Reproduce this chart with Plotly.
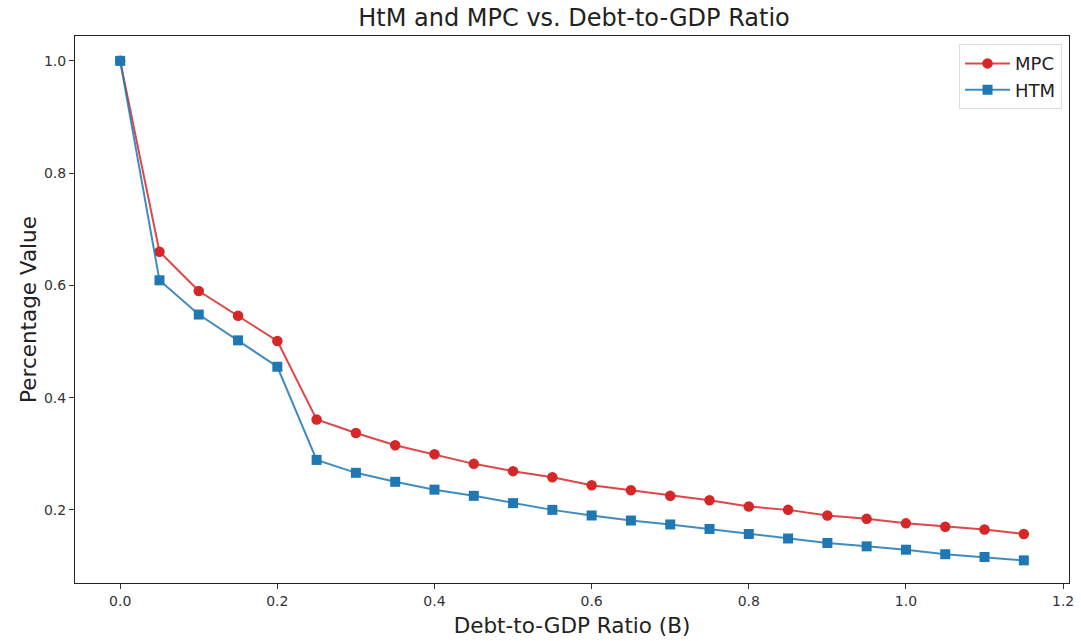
import plotly.graph_objects as go

debt_ratio = [0.0, 0.05, 0.1, 0.15, 0.2, 0.25, 0.3, 0.35, 0.4, 0.45, 0.5, 0.55,
              0.6, 0.65, 0.7, 0.75, 0.8, 0.85, 0.9, 0.95, 1.0, 1.05, 1.1, 1.15]
mpc = [1.0, 0.660, 0.590, 0.546, 0.501, 0.361, 0.337, 0.315, 0.299, 0.282, 0.269, 0.258,
       0.244, 0.235, 0.225, 0.217, 0.206, 0.200, 0.190, 0.184, 0.176, 0.170, 0.165, 0.157]
htm = [1.0, 0.609, 0.548, 0.502, 0.455, 0.289, 0.266, 0.250, 0.236, 0.225, 0.212, 0.200,
       0.190, 0.181, 0.174, 0.166, 0.157, 0.149, 0.141, 0.135, 0.129, 0.121, 0.116, 0.110]
x_ticks = [0.0, 0.2, 0.4, 0.6, 0.8, 1.0, 1.2]
y_ticks = [0.2, 0.4, 0.6, 0.8, 1.0]

FONT = "DejaVu Sans"

fig = go.Figure()
fig.add_trace(go.Scatter(
    x=debt_ratio, y=mpc, name="MPC", mode="lines+markers",
    line=dict(color="rgba(214,39,40,0.85)", width=2),
    marker=dict(symbol="circle", size=10.5, color="#d62728"),
))
fig.add_trace(go.Scatter(
    x=debt_ratio, y=htm, name="HTM", mode="lines+markers",
    line=dict(color="rgba(31,119,180,0.85)", width=2),
    marker=dict(symbol="square", size=10, color="#1f77b4"),
))

axis_common = dict(
    showgrid=False, zeroline=False, showline=True, linecolor="#222", linewidth=1,
    mirror=True, ticks="outside", ticklen=5, tickcolor="#333",
    tickfont=dict(family=FONT, size=14, color="#333"),
)

fig.update_layout(
    width=1081, height=641,
    margin=dict(l=75, r=7, t=36, b=57),
    paper_bgcolor="white", plot_bgcolor="white",
    font=dict(family=FONT, color="#222"),
    title=dict(text="HtM and MPC vs. Debt-to-GDP Ratio", x=0.531, xanchor="center",
               y=0.973, yanchor="middle", font=dict(family=FONT, size=24, color="#222")),
    xaxis=dict(range=[-0.0575, 1.2075], tickvals=x_ticks, ticktext=[f"{v:.1f}" for v in x_ticks],
               title=dict(text="Debt-to-GDP Ratio (B)", font=dict(family=FONT, size=21.5, color="#222"),
                          standoff=10),
               **axis_common),
    yaxis=dict(range=[0.0697, 1.0443], tickvals=y_ticks, ticktext=[f"{v:.1f}" for v in y_ticks],
               title=dict(text="Percentage Value", font=dict(family=FONT, size=21.5, color="#222"),
                          standoff=1),
               **axis_common),
    legend=dict(x=0.993, y=0.985, xanchor="right", yanchor="top",
                bgcolor="rgba(255,255,255,0.8)", bordercolor="#ddd", borderwidth=1,
                tracegroupgap=6, itemwidth=45,
                font=dict(family=FONT, size=18, color="#222")),
)

fig.write_html("out.html")
